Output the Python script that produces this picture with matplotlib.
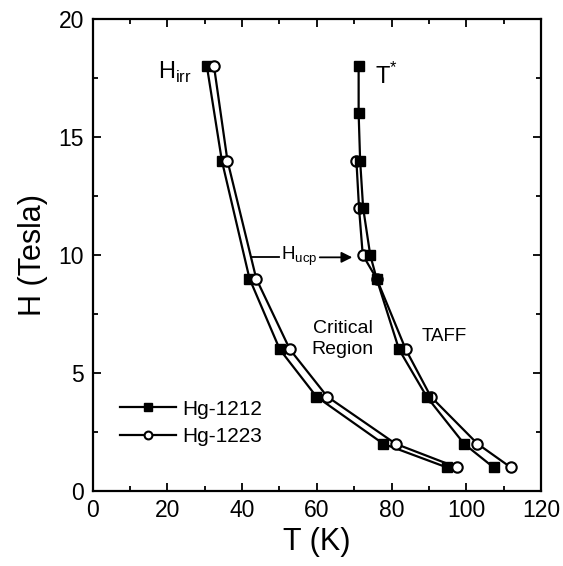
import matplotlib
matplotlib.use('Agg')
import matplotlib.pyplot as plt
from matplotlib.ticker import MultipleLocator

plt.rcParams['font.family'] = ['Liberation Sans', 'DejaVu Sans']

# ── data ─────────────────────────────────────────────────────────────────────
h_irr_1212 = [18, 14, 9, 6, 4, 2, 1]
t_irr_1212 = [30.6, 34.6, 42.0, 50.1, 59.9, 77.8, 94.8]
h_irr_1223 = [18, 14, 9, 6, 4, 2, 1]
t_irr_1223 = [32.5, 36.1, 43.8, 52.8, 62.8, 81.1, 97.5]

h_star_1212 = [18, 16, 14, 12, 10, 9, 6, 4, 2, 1]
t_star_1212 = [71.2, 71.2, 71.6, 72.4, 74.3, 76.0, 82.0, 89.4, 99.4, 107.3]
h_star_1223 = [14, 12, 10, 9, 6, 4, 2, 1]
t_star_1223 = [70.6, 71.3, 72.3, 76.0, 83.8, 90.5, 103.0, 111.9]

labels = ['Hg-1212', 'Hg-1223']

fig = plt.figure(figsize=(5.63, 5.66), dpi=100)
ax = fig.add_axes([0.1643, 0.1325, 0.7967, 0.834])

sq = dict(color='black', lw=1.6, marker='s', ms=7, mfc='black', mec='black')
ci = dict(color='black', lw=1.6, marker='o', ms=7.5, mfc='white', mec='black',
          mew=1.5)

ax.plot(t_irr_1212, h_irr_1212, label=labels[0], zorder=3, **sq)
ax.plot(t_irr_1223, h_irr_1223, label=labels[1], zorder=4, **ci)
ax.plot(t_star_1223, h_star_1223, zorder=3, **ci)
ax.plot(t_star_1212, h_star_1212, zorder=4, **sq)

ax.set_xlim(0, 120)
ax.set_ylim(0, 20)
ax.xaxis.set_major_locator(MultipleLocator(20))
ax.xaxis.set_minor_locator(MultipleLocator(10))
ax.yaxis.set_major_locator(MultipleLocator(5))
ax.yaxis.set_minor_locator(MultipleLocator(2.5))
ax.tick_params(which='both', direction='in', top=True, right=True,
               width=1.3, labelsize=16.5)
ax.tick_params(which='major', length=6, pad=6)
ax.tick_params(which='minor', length=3.5)
for sp in ax.spines.values():
    sp.set_linewidth(1.6)

ax.set_xlabel('T (K)', fontsize=22, labelpad=3)
ax.set_ylabel('H (Tesla)', fontsize=22, labelpad=8)

# ── annotations ──────────────────────────────────────────────────────────────
ax.text(17.5, 17.75, r'H$_{\mathregular{irr}}$', fontsize=17, va='center')
ax.text(75.6, 17.6, r'T$^{\mathregular{*}}$', fontsize=17, va='center')

ax.plot([42.7, 50.0], [9.9, 9.9], color='black', lw=1.3)
ax.text(50.3, 9.95, r'H$_{\mathregular{ucp}}$', fontsize=13.5, va='center')
ax.annotate('', xy=(69.5, 9.9), xytext=(60.8, 9.9),
            arrowprops=dict(arrowstyle='-|>', color='black', lw=1.3,
                            mutation_scale=16, shrinkA=0, shrinkB=0))

ax.text(67, 6.45, 'Critical\nRegion', fontsize=14, ha='center', va='center',
        multialignment='center', linespacing=1.3)
ax.text(94, 6.55, 'TAFF', fontsize=13.5, ha='center', va='center')

ax.legend(loc='center left', bbox_to_anchor=(0.061, 0.144), frameon=False,
          fontsize=15, markerscale=0.75, handlelength=2.7,
          handletextpad=0.3, labelspacing=0.42, borderpad=0, borderaxespad=0)

fig.savefig('out.png', dpi=100)
